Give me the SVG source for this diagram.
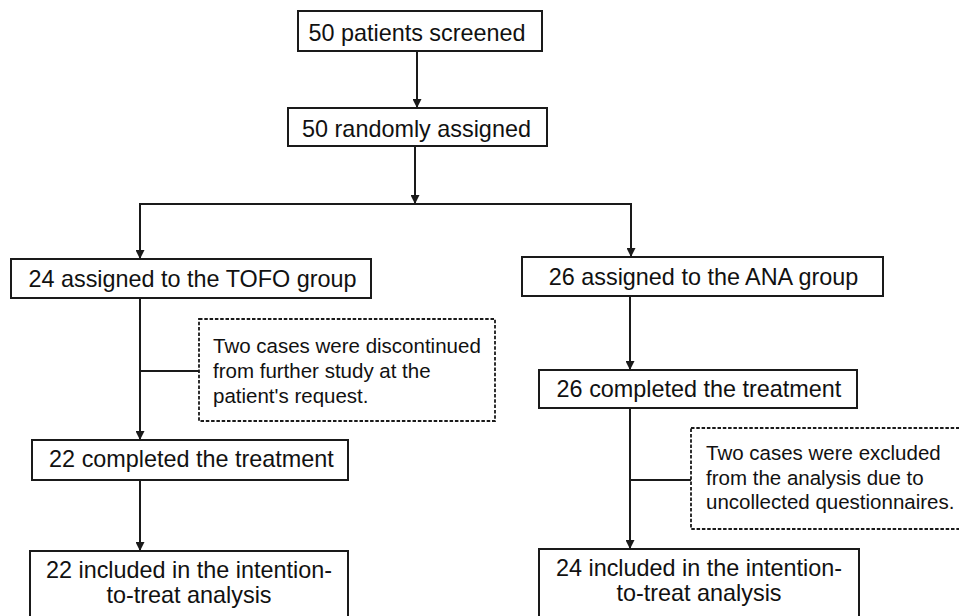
<svg xmlns="http://www.w3.org/2000/svg" width="959" height="616" viewBox="0 0 959 616">
<style>
.box{fill:#fff;stroke:#1a1a1a;stroke-width:2}
.dash{fill:#fff;stroke:#1a1a1a;stroke-width:1.8;stroke-dasharray:3.5 1.8}
.t{font-family:"Liberation Sans",Arial,sans-serif;font-size:23.4px;fill:#111;text-anchor:middle}
.s{font-family:"Liberation Sans",Arial,sans-serif;font-size:20.5px;fill:#111}
.c{fill:none;stroke:#1a1a1a;stroke-width:2}
</style>
<defs>
<marker id="ah" markerUnits="userSpaceOnUse" markerWidth="10" markerHeight="9" refX="9" refY="4.5" orient="auto">
<path d="M0,0 L9,4.5 L0,9 Z" fill="#1a1a1a"/>
</marker>
</defs>
<rect width="959" height="616" fill="#fff"/>
<g id="connectors">
<line class="c" x1="417" y1="51" x2="417" y2="108" marker-end="url(#ah)"/>
<line class="c" x1="415" y1="146" x2="415" y2="204" marker-end="url(#ah)"/>
<polyline class="c" points="140,259 140,204 631,204 631,257"/>
<line class="c" x1="140" y1="205" x2="140" y2="259" marker-end="url(#ah)"/>
<line class="c" x1="631" y1="205" x2="631" y2="257" marker-end="url(#ah)"/>
<line class="c" x1="140" y1="298" x2="140" y2="440" marker-end="url(#ah)"/>
<line class="c" x1="140" y1="371" x2="199" y2="371"/>
<line class="c" x1="140" y1="480" x2="140" y2="551" marker-end="url(#ah)"/>
<line class="c" x1="630" y1="296" x2="630" y2="370" marker-end="url(#ah)"/>
<line class="c" x1="630" y1="408" x2="630" y2="549" marker-end="url(#ah)"/>
<line class="c" x1="630" y1="480" x2="691" y2="480"/>
</g>
<g id="screened">
<rect class="box" x="298" y="11" width="244" height="40"/>
<text class="t" x="417" y="41">50 patients screened</text>
</g>
<g id="randomized">
<rect class="box" x="288" y="108" width="259" height="38"/>
<text class="t" x="416.5" y="137">50 randomly assigned</text>
</g>
<g id="tofo">
<rect class="box" x="11" y="259" width="360" height="39"/>
<text class="t" x="192.5" y="287">24 assigned to the TOFO group</text>
</g>
<g id="ana">
<rect class="box" x="522" y="257" width="361" height="39"/>
<text class="t" x="703.5" y="285">26 assigned to the ANA group</text>
</g>
<g id="tofo-discontinued">
<rect class="dash" x="199" y="319" width="296" height="102"/>
<text class="s" x="213" y="353">Two cases were discontinued</text>
<text class="s" x="213" y="378">from further study at the</text>
<text class="s" x="213" y="403">patient's request.</text>
</g>
<g id="tofo-completed">
<rect class="box" x="32" y="440" width="316" height="40"/>
<text class="t" x="191.5" y="467">22 completed the treatment</text>
</g>
<g id="ana-completed">
<rect class="box" x="539" y="370" width="318" height="38"/>
<text class="t" x="699" y="397">26 completed the treatment</text>
</g>
<g id="ana-excluded">
<rect class="dash" x="691" y="428" width="280" height="101"/>
<text class="s" x="706" y="460">Two cases were excluded</text>
<text class="s" x="706" y="485">from the analysis due to</text>
<text class="s" x="706" y="509">uncollected questionnaires.</text>
</g>
<g id="tofo-itt">
<rect class="box" x="30" y="551" width="318" height="80"/>
<text class="t" x="189" y="578">22 included in the intention-</text>
<text class="t" x="189" y="603">to-treat analysis</text>
</g>
<g id="ana-itt">
<rect class="box" x="539" y="549" width="320" height="80"/>
<text class="t" x="699" y="576">24 included in the intention-</text>
<text class="t" x="699" y="601">to-treat analysis</text>
</g>
</svg>
